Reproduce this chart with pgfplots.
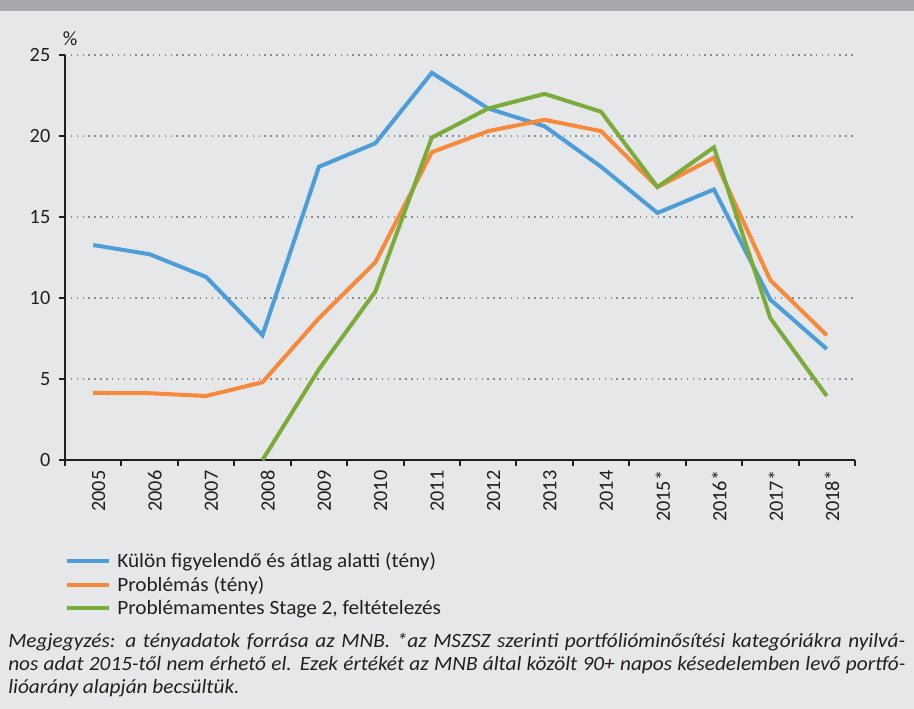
\documentclass[border=0pt]{standalone}
\usepackage{pgfplots}
\pgfplotsset{compat=1.18}
\usepackage{fontspec}
\setmainfont{Carlito}
\newfontfamily\wide{Carlito}[FakeStretch=1.05]
\newfontfamily\widei{Carlito}[FakeStretch=1.05]
\definecolor{bg}{HTML}{E6E7E8}
\definecolor{stripe}{HTML}{A7A8AB}
\definecolor{txt}{HTML}{231F20}
\definecolor{cblue}{HTML}{4D9DD8}
\definecolor{corange}{HTML}{F7893B}
\definecolor{cgreen}{HTML}{7AAB3B}
\definecolor{gridc}{HTML}{8A8B8D}
\begin{document}
\begin{tikzpicture}
\fill[bg] (0pt,0pt) rectangle (685.5pt,531.75pt);
\fill[stripe] (0pt,523.5pt) rectangle (685.5pt,531.75pt);
\begin{axis}[
  at={(48.75pt,186.75pt)}, anchor=south west,
  scale only axis, width=592.5pt, height=303.75pt,
  xmin=-0.5, xmax=13.5, ymin=0, ymax=25,
  axis x line*=bottom, axis y line*=left,
  axis line style={txt, line width=1.4pt, -},
  xtick={0,...,13},
  xticklabels={2005,2006,2007,2008,2009,2010,2011,2012,2013,2014,2015*,2016*,2017*,2018*},
  minor xtick={-0.5,0.5,...,13.5},
  major x tick style={draw=none},
  minor tick length=4.5pt,
  tick align=outside,
  ytick={0,5,...,25},
  major tick length=4.5pt,
  tick style={txt, line width=1.4pt},
  ymajorgrids,
  grid style={gridc, line width=1.1pt, dash pattern=on 1.1pt off 3.3pt},
  xticklabel style={rotate=90, anchor=east, font=\fontsize{15.2}{17}\selectfont, text=txt, yshift=-4pt},
  yticklabel style={font=\fontsize{15.2}{17}\selectfont, text=txt, xshift=-3pt},
  /pgf/number format/assume math mode=true,
  legend style={at={(0,0)}, anchor=north west, xshift=0pt, yshift=-67pt, draw=none, fill=none,
    font=\wide\fontsize{15.2}{17}\selectfont, text=txt, row sep=1.4pt, inner sep=0pt,
    nodes={inner xsep=4.5pt}},
  legend cell align=left,
  legend image code/.code={\draw[#1, line width=3pt] (0pt,0pt) -- (31.5pt,0pt);},
  clip=false,
]
\addplot[cblue, line width=3pt] coordinates {
(0,13.27) (1,12.7) (2,11.3) (3,7.7) (4,18.1) (5,19.55) (6,23.9) (7,21.7) (8,20.6) (9,18.1) (10,15.25) (11,16.7) (12,9.9) (13,6.85)};
\addlegendentry{Külön figyelendő és átlag alatti (tény)}
\addplot[corange, line width=3pt] coordinates {
(0,4.14) (1,4.12) (2,3.95) (3,4.8) (4,8.75) (5,12.2) (6,19.0) (7,20.3) (8,21.0) (9,20.3) (10,16.85) (11,18.65) (12,11.1) (13,7.7)};
\addlegendentry{Problémás (tény)}
\addplot[cgreen, line width=3pt] coordinates {
(3,0) (4,5.6) (5,10.4) (6,19.9) (7,21.7) (8,22.6) (9,21.5) (10,16.85) (11,19.3) (12,8.75) (13,3.95)};
\addlegendentry{Problémamentes Stage 2, feltételezés}
\end{axis}
\node[anchor=center, text=txt, font=\fontsize{15.2}{17}\selectfont] at (52.5pt,503pt) {\%};
\node[anchor=north west, text width=672.75pt, align=justify, inner sep=0pt, text=txt,
  font=\widei\fontsize{15.2}{17.3}\selectfont\itshape] at (6pt,57pt)
 {Megjegyzés: a tényadatok forrása az MNB. *az MSZSZ szerinti portfólióminősítési kategóriákra nyilvá-\linebreak nos adat 2015-től nem érhető el. Ezek értékét az MNB által közölt 90+ napos késedelemben levő portfó-\linebreak lióarány alapján becsültük.};
\end{tikzpicture}
\end{document}
